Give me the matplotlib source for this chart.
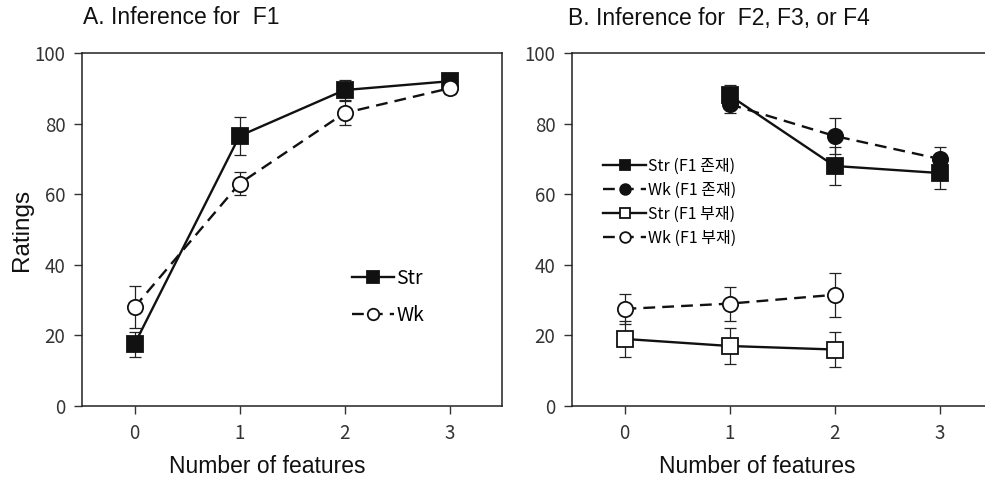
import numpy as np
import matplotlib.pyplot as plt

plt.rcParams['font.family'] = ['Liberation Sans', 'Noto Sans CJK KR', 'DejaVu Sans']

# ---- data ----
x_feat = [0, 1, 2, 3]

# A. Inference for F1
a_str = [17.5, 76.5, 89.5, 92.0]
a_str_err = [3.5, 5.5, 2.8, 1.2]
a_wk = [28.0, 63.0, 83.0, 90.0]
a_wk_err = [6.0, 3.3, 3.5, 1.5]

# B. Inference for F2, F3, or F4
b_x_present = [1, 2, 3]
b_str_pres = [88.0, 68.0, 66.0]
b_str_pres_err = [3.0, 5.5, 4.5]
b_wk_pres = [85.5, 76.5, 70.0]
b_wk_pres_err = [2.5, 5.0, 3.3]

b_x_absent = [0, 1, 2]
b_str_abs = [19.0, 17.0, 16.0]
b_str_abs_err = [5.0, 5.0, 5.0]
b_wk_abs = [27.5, 29.0, 31.5]
b_wk_abs_err = [4.2, 4.8, 6.2]

W, H = 985, 478
fig = plt.figure(figsize=(W / 100, H / 100), dpi=100)

def axpos(x0, x1, y0, y1):
    return [x0 / W, 1 - y1 / H, (x1 - x0) / W, (y1 - y0) / H]

ax1 = fig.add_axes(axpos(82, 502, 53, 406))
ax2 = fig.add_axes(axpos(572, 992, 53, 406))

LW = 1.7
MS = 11
tick_font = ['Noto Sans CJK KR', 'DejaVu Sans']


def series(ax, x, y, e, ls, marker, fc, label):
    ax.errorbar(x, y, yerr=e, fmt='none', ecolor='#222222', elinewidth=0.9,
                capsize=4, capthick=0.9, zorder=2)
    ax.plot(x, y, linestyle=ls, color='#111111', lw=LW, marker=marker, ms=MS,
            mfc=fc, mec='#111111', mew=1.3, label=label, zorder=3,
            dashes=(5, 3) if ls == '--' else (None, None))


series(ax1, x_feat, a_str, a_str_err, '-', 's', '#111111', 'Str')
series(ax1, x_feat, a_wk, a_wk_err, '--', 'o', 'white', 'Wk')

series(ax2, b_x_present, b_str_pres, b_str_pres_err, '-', 's', '#111111', 'Str (F1 존재)')
series(ax2, b_x_present, b_wk_pres, b_wk_pres_err, '--', 'o', '#111111', 'Wk (F1 존재)')
series(ax2, b_x_absent, b_str_abs, b_str_abs_err, '-', 's', 'white', 'Str (F1 부재)')
series(ax2, b_x_absent, b_wk_abs, b_wk_abs_err, '--', 'o', 'white', 'Wk (F1 부재)')

for ax in (ax1, ax2):
    ax.set_xlim(-0.5, 3.5)
    ax.set_ylim(0, 100)
    ax.set_xticks(x_feat)
    ax.set_yticks([0, 20, 40, 60, 80, 100])
    ax.tick_params(direction='out', length=6, width=1, colors='#333333',
                   labelsize=13.5, pad=6)
    for lab in ax.get_xticklabels() + ax.get_yticklabels():
        lab.set_family(tick_font)
    for sp in ax.spines.values():
        sp.set_linewidth(1.1)
        sp.set_color('#222222')
    ax.set_xlabel('Number of features', fontsize=16.5, color='#111111',
                  labelpad=8, x=0.44)

ax1.set_ylabel('Ratings', fontsize=17.5, color='#111111', labelpad=1)

fig.text(83 / W, 1 - 18 / H, 'A. Inference for  F1', fontsize=16.5, va='center',
         ha='left', color='#111111')
fig.text(568 / W, 1 - 18 / H, 'B. Inference for  F2, F3, or F4', fontsize=16.5,
         va='center', ha='left', color='#111111')

leg1 = ax1.legend(loc='upper left', bbox_to_anchor=(0.60, 0.44), frameon=False,
                  handlelength=2.2, handletextpad=0.1, labelspacing=0.8,
                  prop={'family': tick_font, 'size': 14}, markerscale=0.75)
leg2 = ax2.legend(loc='upper left', bbox_to_anchor=(0.04, 0.745), frameon=False,
                  handlelength=2.7, handletextpad=0.1, labelspacing=0.45,
                  prop={'family': tick_font, 'size': 11.5}, markerscale=0.7)

fig.savefig('out.png', dpi=100)
